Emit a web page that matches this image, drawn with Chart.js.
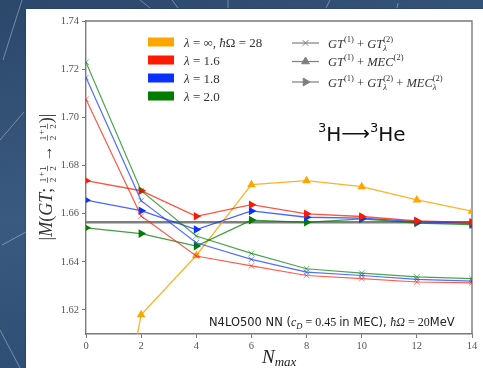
<!DOCTYPE html>
<html>
<head>
<meta charset="utf-8">
<script src="https://cdn.jsdelivr.net/npm/chart.js@4/dist/chart.umd.min.js"></script>
<style>
  html, body { margin: 0; padding: 0; width: 483px; height: 368px; overflow: hidden; }
  body { background: linear-gradient(165deg, #2b486b 0%, #3a5a7f 45%, #2f4e73 75%, #29445f 100%); position: relative; }
  #streaks { position: absolute; left: 0; top: 0; }
  #panel { position: absolute; left: 26px; top: 9px; width: 457px; height: 359px; background: #ffffff; box-shadow: 0 0 2px rgba(0,0,0,0.25); }
  #c { position: absolute; left: 0; top: 0; }
</style>
</head>
<body>
<svg id="streaks" width="483" height="368">
  <g stroke="rgba(255,255,255,0.35)" stroke-width="1" fill="none">
    <path d="M22 0 L3 60"/>
    <path d="M0 140 L24 112"/>
    <path d="M2 245 L26 232"/>
    <path d="M0 330 L20 368"/>
    <path d="M140 0 L150 8"/>
    <path d="M172 0 L178 8"/>
    <path d="M228 0 L228 8"/>
    <path d="M330 0 L326 8"/>
    <path d="M398 3 L397 8"/>
  </g>
</svg>
<div id="panel"></div>
<canvas id="c" width="483" height="368"></canvas>
<script>
// Gamow-Teller matrix element of 3H -> 3He versus model space size N_max
const nmax = [0, 2, 4, 6, 8, 10, 12, 14];
const xTicks = [0, 2, 4, 6, 8, 10, 12, 14];
const yTicks = [1.62, 1.64, 1.66, 1.68, 1.70, 1.72, 1.74];

// lambda = infinity (bare), hbar*Omega = 28 : GT(1) + MEC(2)
const gtMecBare = [1.495, 1.618, 1.6426, 1.672, 1.6737, 1.6712, 1.6657, 1.661];

// GT(1) + GT(2)_lambda
const gtL16 = [1.7075, 1.659, 1.6424, 1.6383, 1.6343, 1.6330, 1.6316, 1.6312];
const gtL18 = [1.7165, 1.6654, 1.6479, 1.6410, 1.6357, 1.6343, 1.6327, 1.6320];
const gtL20 = [1.7229, 1.6695, 1.6507, 1.6435, 1.6371, 1.6353, 1.6337, 1.6330];

// GT(1) + GT(2)_lambda + MEC(2)_lambda
const fullL16 = [1.6737, 1.6695, 1.6589, 1.6637, 1.6599, 1.6588, 1.6570, 1.6564];
const fullL18 = [1.6656, 1.6612, 1.6534, 1.6611, 1.6585, 1.6581, 1.6567, 1.6560];
const fullL20 = [1.6541, 1.6517, 1.6465, 1.6573, 1.6564, 1.6578, 1.6561, 1.6554];

// experimental value
const expValue = 1.6564;

const legendLambda = ['λ = ∞, ħΩ = 28', 'λ = 1.6', 'λ = 1.8', 'λ = 2.0'];

const C_ORANGE = 'rgb(255,165,0)';
const C_RED = 'rgb(255,25,0)';
const C_BLUE = 'rgb(10,50,255)';
const C_GREEN = 'rgb(0,125,0)';
const C_GRAY = '#7f7f7f';
const fade = (c, a) => c.replace('rgb(', 'rgba(').replace(')', ',' + a + ')');

const SERIF = "'Liberation Serif', 'DejaVu Serif', serif";
const SANS = "'DejaVu Sans', 'Liberation Sans', sans-serif";

const pts = arr => nmax.map((n, i) => ({ x: n, y: arr[i] }));

function crossSet(arr, c) {
  return {
    data: pts(arr), borderColor: fade(c, 0.7), borderWidth: 1.2,
    pointStyle: 'crossRot', pointRadius: 4, pointBorderWidth: 1,
    pointBorderColor: fade(c, 0.55), pointBackgroundColor: 'transparent', tension: 0
  };
}
function rightTriSet(arr, c) {
  return {
    data: pts(arr), borderColor: fade(c, 0.75), borderWidth: 1.3,
    pointStyle: 'triangle', pointRotation: 90, pointRadius: 5, pointBorderWidth: 0,
    pointBackgroundColor: c, pointBorderColor: c, tension: 0
  };
}

// ---------- rich text helpers (super/subscripts, small fractions) ----------
function segWidth(ctx, s) {
  if (s.frac) { ctx.font = s.f; return Math.max(ctx.measureText('1').width, ctx.measureText('2').width) + 2; }
  if (s.stack) return Math.max(...s.stack.map(p => { ctx.font = p.f; return ctx.measureText(p.t).width; }));
  ctx.font = s.f; return ctx.measureText(s.t).width;
}
function richWidth(ctx, segs) { return segs.reduce((w, s) => w + segWidth(ctx, s), 0); }
function drawRich(ctx, x, y, segs, color) {
  ctx.save();
  ctx.fillStyle = color; ctx.strokeStyle = color;
  ctx.textBaseline = 'alphabetic'; ctx.textAlign = 'left';
  for (const s of segs) {
    const w = segWidth(ctx, s);
    if (s.frac) {
      ctx.font = s.f;
      const cx = x + w / 2;
      ctx.textAlign = 'center';
      ctx.fillText('1', cx, y + s.dy - 6);
      ctx.fillText('2', cx, y + s.dy + 4);
      ctx.textAlign = 'left';
      ctx.lineWidth = 0.7;
      ctx.beginPath(); ctx.moveTo(x + 0.5, y + s.dy - 4.5); ctx.lineTo(x + w - 0.5, y + s.dy - 4.5); ctx.stroke();
    } else if (s.stack) {
      for (const p of s.stack) { ctx.font = p.f; ctx.fillText(p.t, x, y + p.dy); }
    } else {
      ctx.font = s.f; ctx.fillText(s.t, x, y + (s.dy || 0));
    }
    x += w;
  }
  ctx.restore();
}

const annotations = {
  id: 'annotations',
  beforeDatasetsDraw(chart) {
    const { ctx, chartArea: a } = chart;
    ctx.save();
    ctx.strokeStyle = '#7a7a7a'; ctx.lineWidth = 1.4;
    ctx.beginPath();
    ctx.moveTo(a.left, a.top); ctx.lineTo(a.right, a.top); ctx.lineTo(a.right, a.bottom);
    ctx.stroke();
    ctx.restore();
  },
  afterDraw(chart) {
    const { ctx, chartArea: a } = chart;

    // colour legend
    const lamColors = [C_ORANGE, C_RED, C_BLUE, C_GREEN];
    const rowY = [42, 60, 78, 96];
    lamColors.forEach((c, i) => {
      ctx.fillStyle = c;
      ctx.fillRect(148, rowY[i] - 4.5, 26, 9);
      const segs = [];
      legendLambda[i].split(/(λ|ħ)/).filter(p => p)
        .forEach(p => segs.push({ t: p, f: (p === 'λ' || p === 'ħ' ? 'italic ' : '') + '13px ' + SERIF }));
      drawRich(ctx, 184, rowY[i] + 4.5, segs, '#333');
    });

    // marker legend
    const sup = t => ({ t, f: '8.5px ' + SERIF, dy: -6 });
    const it = t => ({ t, f: 'italic 12.5px ' + SERIF });
    const rm = t => ({ t, f: '12.5px ' + SERIF });
    const supsub = (a1, b1) => ({ stack: [{ t: a1, f: '8.5px ' + SERIF, dy: -6 }, { t: b1, f: 'italic 8.5px ' + SERIF, dy: 3 }] });
    const mRows = [
      { y: 43, style: 'crossRot', rot: 0, segs: [it('GT'), sup('(1)'), rm(' + '), it('GT'), supsub('(2)', 'λ')] },
      { y: 61.5, style: 'triangle', rot: 0, segs: [it('GT'), sup('(1)'), rm(' + '), it('MEC'), sup('(2)')] },
      { y: 82, style: 'triangle', rot: 90, segs: [it('GT'), sup('(1)'), rm(' + '), it('GT'), supsub('(2)', 'λ'), rm(' + '), it('MEC'), supsub('(2)', 'λ')] }
    ];
    mRows.forEach(r => {
      ctx.save();
      ctx.strokeStyle = C_GRAY; ctx.lineWidth = 1.2;
      ctx.beginPath(); ctx.moveTo(292, r.y); ctx.lineTo(319, r.y); ctx.stroke();
      ctx.fillStyle = C_GRAY; ctx.strokeStyle = C_GRAY; ctx.lineWidth = 1;
      Chart.helpers.drawPoint(ctx, { pointStyle: r.style, rotation: r.rot, radius: r.style === 'crossRot' ? 4 : 4.5, borderWidth: 1 }, 305.5, r.y);
      ctx.restore();
      drawRich(ctx, 328, r.y + 4.5, r.segs, '#333');
    });

    // reaction label
    drawRich(ctx, 318, 141, [
      { t: '3', f: '13px ' + SANS, dy: -9 },
      { t: 'H', f: '20px ' + SANS },
      { t: '⟶', f: '20px ' + SANS, dy: -1 },
      { t: '3', f: '13px ' + SANS, dy: -9 },
      { t: 'He', f: '20px ' + SANS }
    ], '#111');

    // interaction / frequency note
    drawRich(ctx, 209, 326, [
      { t: 'N4LO500 NN (', f: '11.5px ' + SANS },
      { t: 'c', f: 'italic 12px ' + SERIF },
      { t: 'D', f: 'italic 8.5px ' + SERIF, dy: 2.5 },
      { t: ' = 0.45 ', f: '12px ' + SERIF },
      { t: 'in MEC), ', f: '11.5px ' + SANS },
      { t: 'ħΩ', f: 'italic 12px ' + SERIF },
      { t: ' = 20', f: '12px ' + SERIF },
      { t: 'MeV', f: '11.5px ' + SANS }
    ], '#222');

    // x axis title
    const xt = [{ t: 'N', f: 'italic 19px ' + SERIF }, { t: 'max', f: 'italic 13px ' + SERIF, dy: 3 }];
    drawRich(ctx, 262, 363, xt, '#222');

    // y axis title (rotated)
    const fr = { frac: true, f: '9px ' + SERIF, dy: 0 };
    const yt = [
      { t: '|', f: '18px ' + SERIF }, { t: 'M', f: 'italic 18px ' + SERIF }, { t: '(', f: '18px ' + SERIF },
      { t: 'GT', f: 'italic 18px ' + SERIF }, { t: '; ', f: '18px ' + SERIF },
      fr, { t: '+', f: '9px ' + SERIF, dy: -8 }, fr,
      { t: ' → ', f: '16px ' + SERIF },
      fr, { t: '+', f: '9px ' + SERIF, dy: -8 }, fr,
      { t: ')|', f: '18px ' + SERIF }
    ];
    const yw = richWidth(ctx, yt);
    ctx.save();
    ctx.translate(52, 177);
    ctx.rotate(-Math.PI / 2);
    drawRich(ctx, -yw / 2, 0, yt, '#333');
    ctx.restore();
  }
};

new Chart(document.getElementById('c'), {
  type: 'line',
  data: {
    datasets: [
      { data: [{ x: nmax[0], y: expValue }, { x: nmax[nmax.length - 1], y: expValue }],
        borderColor: C_GRAY, borderWidth: 2.6, pointRadius: 0, order: 10 },
      crossSet(gtL16, C_RED),
      crossSet(gtL18, C_BLUE),
      crossSet(gtL20, C_GREEN),
      rightTriSet(fullL16, C_RED),
      rightTriSet(fullL18, C_BLUE),
      rightTriSet(fullL20, C_GREEN),
      { data: pts(gtMecBare), borderColor: fade(C_ORANGE, 0.85), borderWidth: 1.3,
        pointStyle: 'triangle', pointRadius: 5, pointBorderWidth: 0,
        pointBackgroundColor: C_ORANGE, pointBorderColor: C_ORANGE, tension: 0 }
    ]
  },
  options: {
    responsive: false,
    animation: false,
    events: [],
    layout: { padding: { top: 21, right: 11, left: 0, bottom: 0 } },
    plugins: { legend: { display: false }, tooltip: { enabled: false } },
    scales: {
      x: {
        type: 'linear', min: 0, max: 14,
        afterBuildTicks: s => { s.ticks = xTicks.map(v => ({ value: v })); },
        afterFit: s => { s.height = 34; },
        grid: { drawOnChartArea: false, drawTicks: true, tickLength: 4, tickColor: '#777', tickWidth: 1 },
        border: { display: true, color: '#7a7a7a', width: 1.4 },
        ticks: { color: '#555', font: { family: SERIF, size: 10.5 }, padding: 2, maxRotation: 0 }
      },
      y: {
        type: 'linear', min: 1.61, max: 1.74,
        afterBuildTicks: s => { s.ticks = yTicks.map(v => ({ value: v })); },
        afterFit: s => { s.width = 86; },
        grid: { drawOnChartArea: false, drawTicks: true, tickLength: 4, tickColor: '#777', tickWidth: 1 },
        border: { display: true, color: '#7a7a7a', width: 1.4 },
        ticks: { color: '#555', font: { family: SERIF, size: 10.5 }, padding: 3,
                 callback: v => v.toFixed(2) }
      }
    }
  },
  plugins: [annotations]
});
</script>
</body>
</html>
